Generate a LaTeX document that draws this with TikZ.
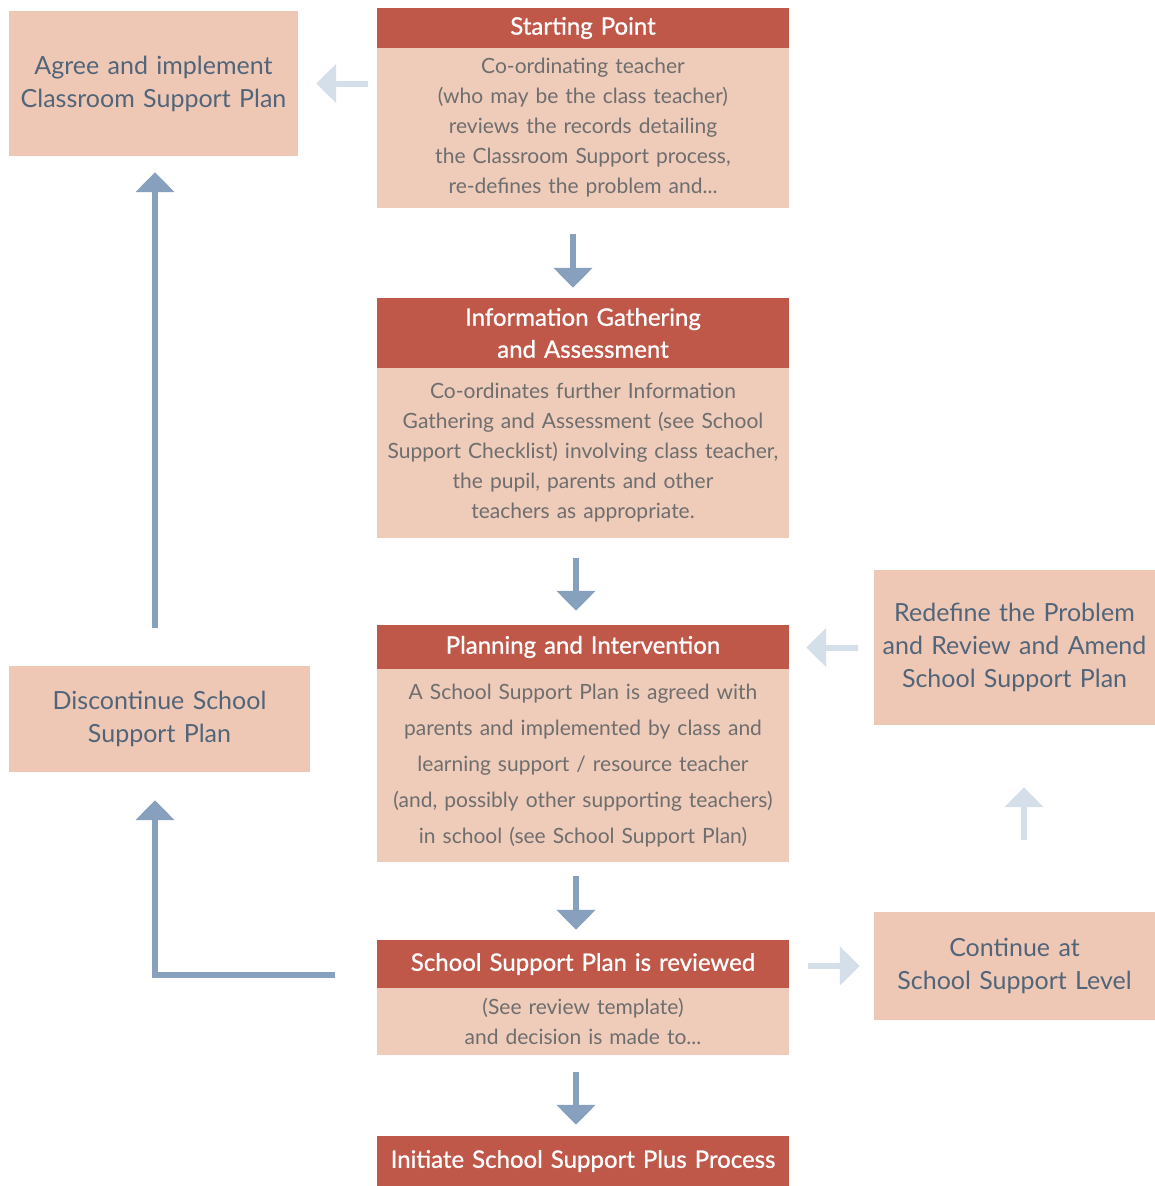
\documentclass[tikz,border=0pt]{standalone}
\usepackage{fontspec}
\setmainfont{Lato}
\newfontfamily\hdrfont[FakeBold=0.9]{Lato}
\usetikzlibrary{arrows.meta}
\definecolor{hdr}{HTML}{C0584A}
\definecolor{bodyc}{HTML}{EFCBBA}
\definecolor{sidec}{HTML}{EFC8B5}
\definecolor{bodytxt}{HTML}{6E6E6E}
\definecolor{sidetxt}{HTML}{51657A}
\definecolor{darkarr}{HTML}{86A0BD}
\definecolor{lightarr}{HTML}{D5DFEA}
\tikzset{
  hbox/.style={fill=hdr, text=white, inner sep=0pt, minimum width=412pt, text width=405pt, align=center, font=\hdrfont\fontsize{24}{32}\selectfont},
  bbox/.style={fill=bodyc, text=bodytxt, inner sep=0pt, minimum width=412pt, text width=405pt, align=center, font=\fontsize{21}{30}\selectfont},
  sbox/.style={fill=sidec, text=sidetxt, inner sep=0pt, align=center, font=\fontsize{25}{33}\selectfont},
  darrow/.style={draw=darkarr, line width=6pt, -{Triangle[length=20pt,width=38pt]}},
  larrow/.style={draw=lightarr, line width=6pt, -{Triangle[length=20pt,width=38pt]}},
}
\begin{document}
\begin{tikzpicture}[x=1pt,y=-1pt]
\useasboundingbox[fill=white] (0,0) rectangle (1155,1186);
% central column
\node[hbox, minimum height=40pt] (sph) at (583,28) {Starting Point};
\node[bbox, minimum height=160pt] (spb) at (583,128) {Co-ordinating teacher\\(who may be the class teacher)\\reviews the records detailing\\the Classroom Support process,\\re-defines the problem and...};
\node[hbox, minimum height=70pt] (igh) at (583,333) {Information Gathering\\and Assessment};
\node[bbox, minimum height=170pt] (igb) at (583,453) {Co-ordinates further Information\\Gathering and Assessment (see School\\Support Checklist) involving class teacher,\\the pupil, parents and other\\teachers as appropriate.};
\node[hbox, minimum height=44pt] (plh) at (583,647) {Planning and Intervention};
\node[bbox, minimum height=193pt, font=\fontsize{21}{36}\selectfont] (plb) at (583,765.5) {A School Support Plan is agreed with\\parents and implemented by class and\\learning support / resource teacher\\(and, possibly other supporting teachers)\\in school (see School Support Plan)};
\node[hbox, minimum height=48pt] (rvh) at (583,964) {School Support Plan is reviewed};
\node[bbox, minimum height=67pt] (rvb) at (583,1021.5) {(See review template)\\and decision is made to...};
\node[hbox, minimum height=50pt] (inh) at (583,1161) {Initiate School Support Plus Process};
% side boxes
\node[sbox, minimum width=289pt, minimum height=145pt, text width=285pt] (agree) at (153.5,83.5) {Agree and implement\\Classroom Support Plan};
\node[sbox, minimum width=301pt, minimum height=106pt, text width=295pt] (disc) at (159.5,719) {Discontinue School\\Support Plan};
\node[sbox, minimum width=281pt, minimum height=155pt, text width=278pt] (redef) at (1014.5,647.5) {Redefine the Problem\\and Review and Amend\\School Support Plan};
\node[sbox, minimum width=281pt, minimum height=108pt, text width=278pt] (cont) at (1014.5,966) {Continue at\\School Support Level};
% vertical flow arrows
\draw[darrow, shorten <=26pt, shorten >=10pt] ([xshift=-10pt]spb.south) -- ([xshift=-10pt]igh.north);
\draw[darrow, shorten <=20pt, shorten >=14pt] ([xshift=-7pt]igb.south) -- ([xshift=-7pt]plh.north);
\draw[darrow, shorten <=14pt, shorten >=10pt] ([xshift=-7pt]plb.south) -- ([xshift=-7pt]rvh.north);
\draw[darrow, shorten <=17pt, shorten >=11pt] ([xshift=-7pt]rvb.south) -- ([xshift=-7pt]inh.north);
% left arrows
\draw[larrow, shorten <=9pt, shorten >=18pt] (agree.east -| spb.west) -- (agree.east);
\draw[darrow, shorten <=38pt, shorten >=16pt] ([xshift=-4.5pt]disc.north) -- ([xshift=-4.5pt]disc.north |- agree.south);
\draw[darrow, shorten <=42pt, shorten >=28pt] ([yshift=-11pt]rvh.west) -- ([yshift=-11pt,xshift=-4.5pt]rvh.west -| disc.south) -- ([xshift=-4.5pt]disc.south);
% right arrows
\draw[larrow, shorten <=16pt, shorten >=17pt] (redef.west) -- (redef.west -| plb.east);
\draw[larrow, shorten <=72pt, shorten >=62pt] ([xshift=9.5pt]cont.north) -- ([xshift=9.5pt]redef.south);
\draw[larrow, shorten <=19pt, shorten >=14pt] (cont.west -| rvh.east) -- (cont.west);
\end{tikzpicture}
\end{document}
